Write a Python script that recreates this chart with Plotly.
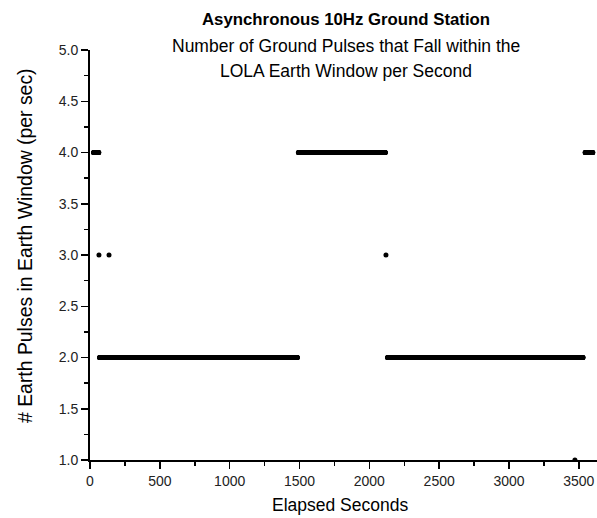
import numpy as np
import plotly.graph_objects as go

# Segments of constant pulse count (elapsed seconds, start/end inclusive)
seg_start = [25, 68, 1492, 2130, 3545]
seg_end = [63, 1485, 2115, 3530, 3600]
seg_value = [4.0, 2.0, 4.0, 2.0, 4.0]

# Isolated single-second points
single_t = [64, 136, 2119, 3472]
single_v = [3.0, 3.0, 3.0, 1.0]

x_ticks = [0, 500, 1000, 1500, 2000, 2500, 3000, 3500]
y_ticks = [1.0, 1.5, 2.0, 2.5, 3.0, 3.5, 4.0, 4.5, 5.0]

t_all, v_all = [], []
for s, e, v in zip(seg_start, seg_end, seg_value):
    ts = np.arange(s, e + 1, 1)
    t_all.extend(ts.tolist())
    v_all.extend([v] * len(ts))
t_all.extend(single_t)
v_all.extend(single_v)

W, H = 597, 518
L, R, T, B = 90, 0, 50, 58
pw, ph = W - L - R, H - T - B

def px(xp):
    return (xp - L) / pw

def py(yp):
    return (H - B - yp) / ph

font_family = "Liberation Sans, Arial, sans-serif"

fig = go.Figure()
fig.add_trace(go.Scatter(
    x=t_all, y=v_all, mode="markers",
    marker=dict(color="black", size=5, line=dict(width=0)),
    showlegend=False, hoverinfo="skip",
))

axis_common = dict(
    showline=True, linecolor="black", linewidth=2,
    ticks="outside", ticklen=7, tickwidth=1.5, tickcolor="black",
    showgrid=False, zeroline=False, mirror=False,
    tickfont=dict(family=font_family, size=14, color="#222"),
)

fig.update_xaxes(
    range=[0, 3630], tickvals=x_ticks, ticktext=[str(v) for v in x_ticks],
    minor=dict(ticks="outside", ticklen=4, tickwidth=1.5, tickcolor="black", dtick=250, tick0=0, showgrid=False),
    **axis_common,
)
fig.update_yaxes(
    range=[1.0, 5.0], tickvals=y_ticks, ticktext=[f"{v:.1f}" for v in y_ticks],
    minor=dict(ticks="outside", ticklen=4, tickwidth=1.5, tickcolor="black", dtick=0.25, tick0=0, showgrid=False),
    **axis_common,
)

annots = [
    dict(text="<b>Asynchronous 10Hz Ground Station</b>", x=px(345.5), y=py(20), size=16.8),
    dict(text="Number of Ground Pulses that Fall within the", x=px(345.5), y=py(46), size=17.5),
    dict(text="LOLA Earth Window per Second", x=px(345.5), y=py(71), size=17.5),
    dict(text="Elapsed Seconds", x=px(340), y=py(505), size=17.5),
]
for a in annots:
    fig.add_annotation(
        text=a["text"], x=a["x"], y=a["y"], xref="paper", yref="paper",
        xanchor="center", yanchor="middle", showarrow=False,
        font=dict(family=font_family, size=a["size"], color="black"),
    )
fig.add_annotation(
    text="# Earth Pulses in Earth Window (per sec)", x=px(25), y=py(246),
    xref="paper", yref="paper", xanchor="center", yanchor="middle",
    textangle=-90, showarrow=False,
    font=dict(family=font_family, size=19.4, color="black"),
)

fig.update_layout(
    width=W, height=H,
    margin=dict(l=L, r=R, t=T, b=B, pad=0),
    plot_bgcolor="white", paper_bgcolor="white",
    font=dict(family=font_family, color="black"),
)

fig.write_html(
    "out.html",
    config={"displayModeBar": False, "staticPlot": True},
    post_script="document.body.style.margin='0';document.body.style.padding='0';document.body.style.overflow='hidden';",
)
